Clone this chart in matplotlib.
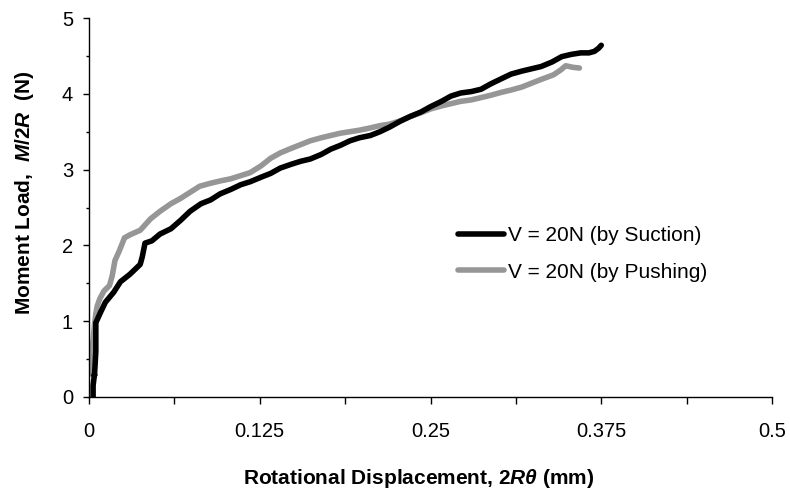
import matplotlib.pyplot as plt
from matplotlib.ticker import MultipleLocator, FixedLocator
import numpy as np

# V = 20N (by Suction)
suction_x = [0.003, 0.003, 0.004, 0.004, 0.005, 0.005, 0.008, 0.012, 0.018, 0.023,
             0.030, 0.0375, 0.039, 0.041, 0.046, 0.052, 0.060, 0.067, 0.074, 0.082,
             0.089, 0.096, 0.104, 0.111, 0.118, 0.126, 0.133, 0.140, 0.148, 0.155,
             0.162, 0.170, 0.177, 0.184, 0.191, 0.198, 0.206, 0.213, 0.220, 0.228,
             0.235, 0.243, 0.250, 0.258, 0.265, 0.272, 0.280, 0.287, 0.294, 0.302,
             0.309, 0.317, 0.324, 0.331, 0.339, 0.346, 0.353, 0.360, 0.366, 0.370,
             0.373, 0.375]
suction_y = [0.00, 0.15, 0.30, 0.28, 0.60, 0.98, 1.10, 1.25, 1.38, 1.52,
             1.62, 1.75, 1.85, 2.03, 2.06, 2.15, 2.22, 2.33, 2.45, 2.55,
             2.60, 2.68, 2.74, 2.80, 2.84, 2.90, 2.95, 3.02, 3.07, 3.11,
             3.14, 3.20, 3.27, 3.32, 3.38, 3.42, 3.45, 3.50, 3.56, 3.64,
             3.70, 3.76, 3.83, 3.90, 3.97, 4.01, 4.03, 4.06, 4.13, 4.20,
             4.26, 4.30, 4.33, 4.36, 4.42, 4.49, 4.52, 4.54, 4.54, 4.56,
             4.60, 4.64]

# V = 20N (by Pushing)
pushing_x = [0.002, 0.001, 0.002, 0.003, 0.004, 0.005, 0.006, 0.008, 0.011, 0.015,
             0.017, 0.019, 0.022, 0.026, 0.030, 0.0375, 0.045, 0.052, 0.060, 0.067,
             0.074, 0.081, 0.089, 0.096, 0.104, 0.111, 0.118, 0.126, 0.133, 0.140,
             0.148, 0.155, 0.162, 0.170, 0.177, 0.184, 0.191, 0.198, 0.206, 0.213,
             0.220, 0.229, 0.235, 0.243, 0.250, 0.258, 0.265, 0.272, 0.280, 0.287,
             0.294, 0.302, 0.309, 0.317, 0.324, 0.331, 0.340, 0.345, 0.349, 0.354,
             0.359]
pushing_y = [0.30, 0.45, 0.60, 0.75, 0.95, 1.10, 1.20, 1.30, 1.40, 1.47,
             1.60, 1.80, 1.92, 2.10, 2.14, 2.20, 2.35, 2.45, 2.55, 2.62,
             2.70, 2.78, 2.82, 2.85, 2.88, 2.92, 2.96, 3.05, 3.15, 3.22,
             3.28, 3.33, 3.38, 3.42, 3.45, 3.48, 3.50, 3.52, 3.55, 3.58,
             3.60, 3.65, 3.70, 3.75, 3.80, 3.84, 3.87, 3.90, 3.92, 3.95,
             3.98, 4.02, 4.05, 4.09, 4.14, 4.19, 4.25, 4.31, 4.37, 4.35,
             4.34]

x_ticks = [0, 0.125, 0.25, 0.375, 0.5]
x_ticklabels = ["0", "0.125", "0.25", "0.375", "0.5"]

plt.rcParams['font.family'] = ['Liberation Sans', 'DejaVu Sans']
plt.rcParams['mathtext.fontset'] = 'custom'
plt.rcParams['mathtext.rm'] = 'Liberation Sans:bold'
plt.rcParams['mathtext.it'] = 'Liberation Sans:bold:italic'
plt.rcParams['mathtext.bf'] = 'Liberation Sans:bold'

fig = plt.figure(figsize=(7.9, 4.97), dpi=100)
ax = fig.add_axes([89 / 790, 100 / 497, 683 / 790, 379 / 497])

ax.plot(suction_x, suction_y, color='black', lw=4, solid_capstyle='round',
        solid_joinstyle='round', label='V = 20N (by Suction)', zorder=3)
ax.plot(pushing_x, pushing_y, color='#969696', lw=4, solid_capstyle='round',
        solid_joinstyle='round', label='V = 20N (by Pushing)', zorder=2)

ax.set_xlim(0, 0.5)
ax.set_ylim(0, 5)
ax.xaxis.set_major_locator(FixedLocator(x_ticks))
ax.set_xticklabels(x_ticklabels)
ax.xaxis.set_minor_locator(MultipleLocator(0.0625))
ax.yaxis.set_major_locator(MultipleLocator(1))
ax.yaxis.set_minor_locator(MultipleLocator(0.5))

for s in ['top', 'right']:
    ax.spines[s].set_visible(False)
for s in ['left', 'bottom']:
    ax.spines[s].set_linewidth(1.0)

ax.tick_params(axis='x', which='major', direction='out', length=5, width=1,
               labelsize=14.5, pad=13)
ax.tick_params(axis='x', which='minor', direction='out', length=5, width=1)
ax.tick_params(axis='y', which='major', direction='out', length=4.5, width=1,
               labelsize=14.5, pad=7)
ax.tick_params(axis='y', which='minor', direction='out', length=2.5, width=1)

ax.set_xlabel(r'Rotational Displacement, $2R\theta$ (mm)', fontsize=15,
              fontweight='bold')
ax.xaxis.set_label_coords(0.482, -0.185)
ax.set_ylabel(r'Moment Load,  $M/2R$  (N)', fontsize=15, fontweight='bold')
ax.yaxis.set_label_coords(-0.078, 0.54)

leg = ax.legend(loc='center left', bbox_to_anchor=(0.513, 0.378), frameon=False,
                fontsize=15, handlelength=2.2, handletextpad=0.2,
                labelspacing=0.85)

fig.savefig('out.png', dpi=100)
